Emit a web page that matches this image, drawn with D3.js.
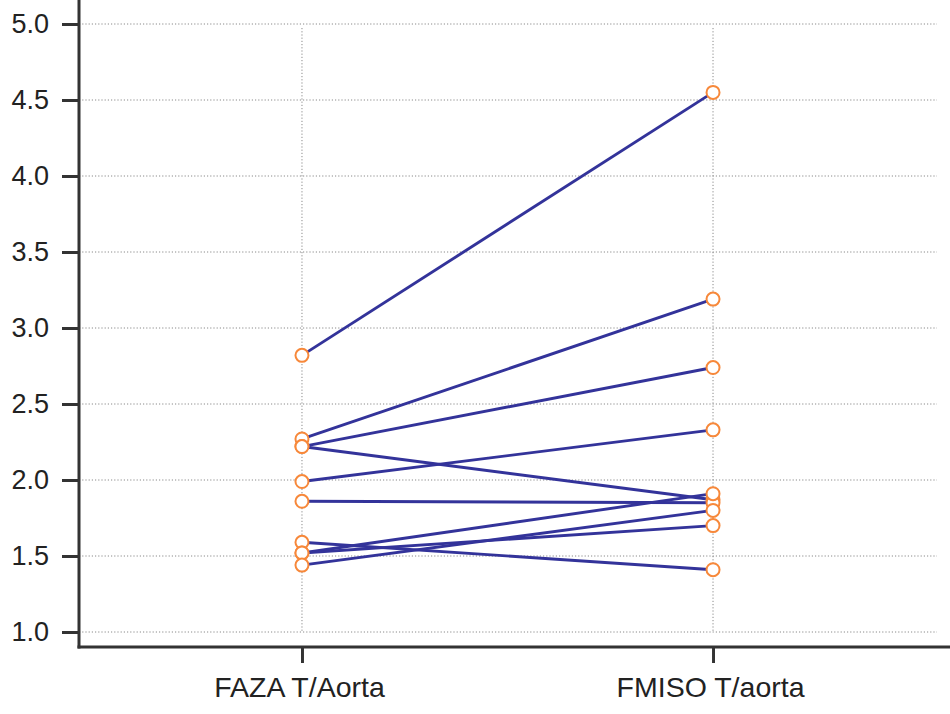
<!DOCTYPE html>
<html>
<head>
<meta charset="utf-8">
<script src="https://cdn.jsdelivr.net/npm/d3@7"></script>
<style>
  html, body { margin: 0; padding: 0; background: #fff; }
  svg { display: block; }
</style>
</head>
<body>
<svg id="chart" width="950" height="714"></svg>
<script>
// ---- data ----
const categories = ["FAZA T/Aorta", "FMISO T/aorta"];
const fazaValues  = [2.82, 2.27, 2.22, 2.22, 1.99, 1.86, 1.59, 1.52, 1.52, 1.44];
const fmisoValues = [4.55, 3.19, 2.74, 1.87, 2.33, 1.85, 1.41, 1.91, 1.70, 1.80];
const yTicks = [1.0, 1.5, 2.0, 2.5, 3.0, 3.5, 4.0, 4.5, 5.0];

const pairs = fazaValues.map((v, i) => [v, fmisoValues[i]]);

const svg = d3.select("#chart");
const axisX = 79, axisY = 647, rightEdge = 937;

const x = d3.scalePoint().domain(categories).range([80, 935]).padding(0.54);
const y = d3.scaleLinear().domain([1, 5]).range([632, 24]);

// grid
const grid = svg.append("g");
grid.selectAll("line.h").data(yTicks).join("line")
  .attr("x1", axisX).attr("x2", rightEdge)
  .attr("y1", d => y(d)).attr("y2", d => y(d))
  .attr("stroke", "#8a8a8a").attr("stroke-width", 1).attr("stroke-dasharray", "1.2,2");
grid.selectAll("line.v").data(categories).join("line")
  .attr("x1", d => x(d)).attr("x2", d => x(d))
  .attr("y1", y(5) + 4).attr("y2", y(1))
  .attr("stroke", "#8a8a8a").attr("stroke-width", 1).attr("stroke-dasharray", "1.2,2");

// y axis
const yAxis = svg.append("g").attr("transform", `translate(${axisX},0)`)
  .call(d3.axisLeft(y).tickValues(yTicks).tickFormat(d3.format(".1f")).tickSize(17).tickPadding(13).tickSizeOuter(0));
yAxis.select(".domain").remove();
yAxis.selectAll(".tick line").attr("stroke", "#333").attr("stroke-width", 3);
yAxis.selectAll(".tick text").attr("fill", "#222")
  .style("font-family", "'Liberation Sans', Arial, sans-serif").style("font-size", "27px");

// x axis
const xAxis = svg.append("g").attr("transform", `translate(0,${axisY})`)
  .call(d3.axisBottom(x).tickSize(16).tickPadding(14).tickSizeOuter(0));
xAxis.select(".domain").remove();
xAxis.selectAll(".tick line").attr("stroke", "#333").attr("stroke-width", 3);
xAxis.selectAll(".tick text").attr("fill", "#222").attr("dx", "-3")
  .style("font-family", "'Liberation Sans', Arial, sans-serif").style("font-size", "28.5px");

// axis lines
svg.append("line").attr("x1", axisX).attr("x2", axisX).attr("y1", 0).attr("y2", axisY + 1.5)
  .attr("stroke", "#333").attr("stroke-width", 3);
svg.append("line").attr("x1", axisX - 1.5).attr("x2", 950).attr("y1", axisY).attr("y2", axisY)
  .attr("stroke", "#333").attr("stroke-width", 3);

// pair lines
const line = d3.line().x((d, i) => x(categories[i])).y(d => y(d));
svg.append("g").selectAll("path").data(pairs).join("path")
  .attr("d", d => line(d))
  .attr("fill", "none").attr("stroke", "#33339a").attr("stroke-width", 2.9);

// markers
const pts = [];
pairs.forEach(p => { pts.push([categories[0], p[0]]); pts.push([categories[1], p[1]]); });
svg.append("g").selectAll("circle").data(pts).join("circle")
  .attr("cx", d => x(d[0])).attr("cy", d => y(d[1])).attr("r", 6.5)
  .attr("fill", "#fff").attr("stroke", "#f7883a").attr("stroke-width", 2);
</script>
</body>
</html>
